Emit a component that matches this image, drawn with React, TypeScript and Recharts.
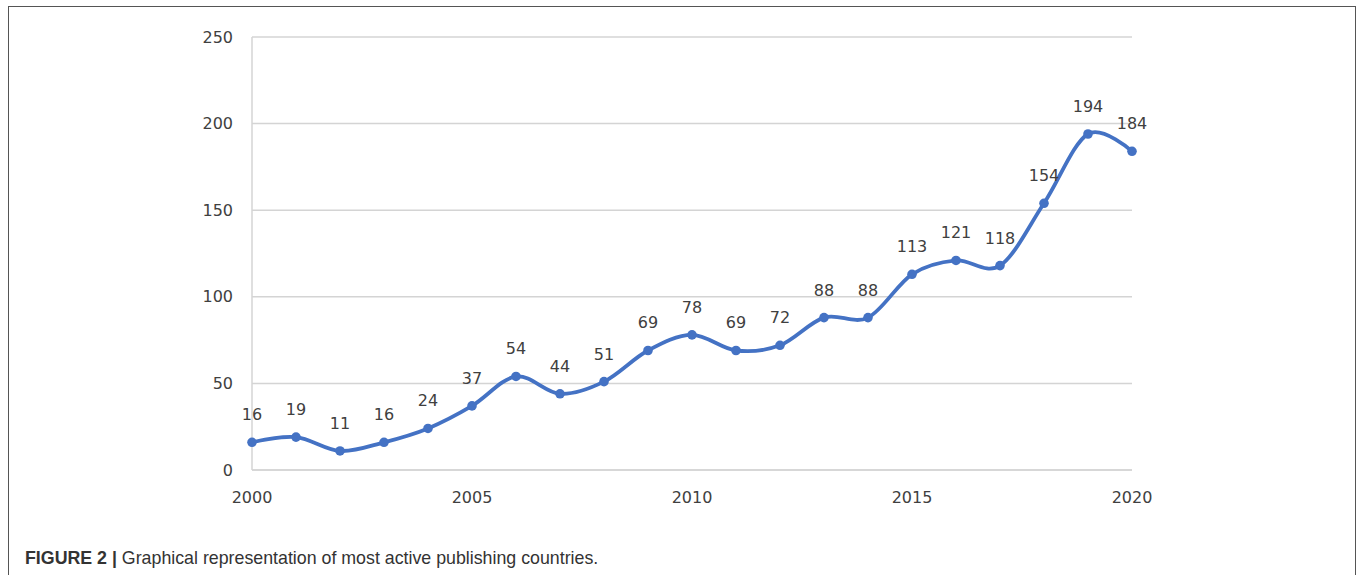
import React from "react";
import { LineChart, Line, XAxis, YAxis, CartesianGrid, LabelList } from "recharts";

const years = [2000, 2001, 2002, 2003, 2004, 2005, 2006, 2007, 2008, 2009, 2010, 2011, 2012, 2013, 2014, 2015, 2016, 2017, 2018, 2019, 2020];
const counts = [16, 19, 11, 16, 24, 37, 54, 44, 51, 69, 78, 69, 72, 88, 88, 113, 121, 118, 154, 194, 184];
const xTicks = [2000, 2005, 2010, 2015, 2020];
const yTicks = [0, 50, 100, 150, 200, 250];

const data = years.map((y, i) => ({ year: y, value: counts[i] }));

// Catmull-Rom style cardinal curve (like Excel's smoothed line)
function cardinalCurve(context: any) {
  const k = 1 / 6;
  let x0 = NaN, y0 = NaN, x1 = NaN, y1 = NaN, x2 = NaN, y2 = NaN;
  let pt = 0;
  let line: number = NaN;
  const seg = (x: number, y: number) => {
    context.bezierCurveTo(
      x1 + k * (x2 - x0),
      y1 + k * (y2 - y0),
      x2 + k * (x1 - x),
      y2 + k * (y1 - y),
      x2,
      y2
    );
  };
  return {
    areaStart() { line = 0; },
    areaEnd() { line = NaN; },
    lineStart() { x0 = x1 = x2 = y0 = y1 = y2 = NaN; pt = 0; },
    lineEnd() {
      switch (pt) {
        case 2: context.lineTo(x2, y2); break;
        case 3: seg(x1, y1); break;
      }
      if (line || (line !== 0 && pt === 1)) context.closePath();
      line = 1 - line;
    },
    point(x: number, y: number) {
      x = +x; y = +y;
      switch (pt) {
        case 0: pt = 1; line ? context.lineTo(x, y) : context.moveTo(x, y); break;
        case 1: pt = 2; x1 = x; y1 = y; break;
        case 2: pt = 3; seg(x, y); break;
        default: seg(x, y); break;
      }
      x0 = x1; x1 = x2; x2 = x;
      y0 = y1; y1 = y2; y2 = y;
    },
  };
}

const tickFont = { fontFamily: "DejaVu Sans", fontSize: 16, fill: "#404040" };

export default function App() {
  return (
    <div style={{ position: "absolute", left: 8, top: 6, width: 1346, height: 620, border: "1px solid #555", background: "#fff" }}>
      <LineChart
        width={1340}
        height={520}
        data={data}
        margin={{ top: 30, left: 183, right: 217, bottom: 17 }}
      >
        <CartesianGrid vertical={false} stroke="#d4d4d4" strokeWidth={1.5} />
        <XAxis
          dataKey="year"
          type="number"
          domain={[2000, 2020]}
          ticks={xTicks}
          tickLine={false}
          tickSize={0}
          tickMargin={22}
          height={40}
          axisLine={{ stroke: "#d4d4d4", strokeWidth: 1.5 }}
          tick={tickFont}
        />
        <YAxis
          domain={[0, 250]}
          ticks={yTicks}
          width={60}
          tickLine={false}
          tickSize={0}
          tickMargin={19}
          axisLine={{ stroke: "#d4d4d4", strokeWidth: 1.5 }}
          tick={tickFont}
        />
        <Line
          dataKey="value"
          type={cardinalCurve as any}
          stroke="#4472C4"
          strokeWidth={3.8}
          dot={{ r: 4.8, fill: "#4472C4", stroke: "none" }}
          activeDot={false}
          isAnimationActive={false}
        >
          <LabelList dataKey="value" position="top" offset={22} style={{ fontFamily: "DejaVu Sans", fontSize: 16, fill: "#404040" }} />
        </Line>
      </LineChart>
      <div style={{ position: "absolute", left: 16, top: 541, fontFamily: "Liberation Sans", fontSize: 17.8, color: "#333" }}>
        <b>FIGURE 2 |</b> Graphical representation of most active publishing countries.
      </div>
    </div>
  );
}
